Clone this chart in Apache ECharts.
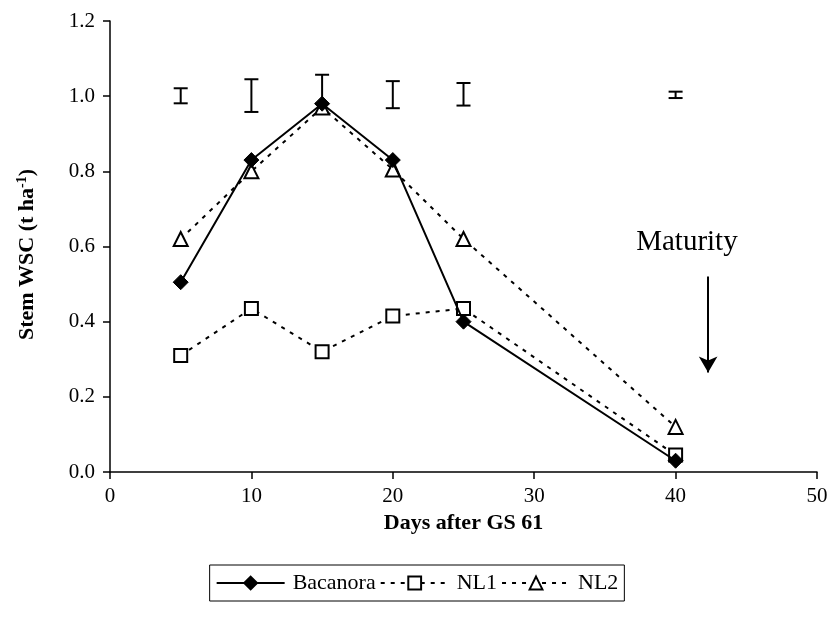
<!DOCTYPE html>
<html>
<head>
<meta charset="utf-8">
<script src="https://cdn.jsdelivr.net/npm/echarts@6/dist/echarts.min.js"></script>
<style>
html,body{margin:0;padding:0;background:#fff;}
#c{width:834px;height:626px;}
</style>
</head>
<body>
<div id="c"></div>
<script>
// Data
const days = [5, 10, 15, 20, 25, 40];
const bacanora = [0.505, 0.83, 0.98, 0.83, 0.40, 0.03];
const nl1 = [0.31, 0.435, 0.32, 0.415, 0.435, 0.045];
const nl2 = [0.62, 0.80, 0.97, 0.805, 0.62, 0.12];
const errLow = [0.981, 0.958, 0.98, 0.968, 0.975, 0.995];
const errHigh = [1.021, 1.045, 1.057, 1.04, 1.035, 1.012];
const xTicks = [0, 10, 20, 30, 40, 50];
const yTicks = [0.0, 0.2, 0.4, 0.6, 0.8, 1.0, 1.2];
const maturityX = 42.3;
const maturityArrow = [0.52, 0.265];
const maturityLabel = [40.8, 0.61];

const serif = '"Liberation Serif", "Times New Roman", serif';
const pairs = (ys) => days.map((d, i) => [d, ys[i]]);

const chart = echarts.init(document.getElementById('c'));
chart.setOption({
  animation: false,
  backgroundColor: '#fff',
  grid: { left: 110, right: 17, top: 21, bottom: 154, containLabel: false },
  xAxis: {
    type: 'value', min: xTicks[0], max: xTicks[xTicks.length - 1], interval: 10,
    name: 'Days after GS 61', nameLocation: 'middle', nameGap: 40,
    nameTextStyle: { fontFamily: serif, fontWeight: 'bold', fontSize: 22, color: '#000' },
    axisLine: { lineStyle: { color: '#000', width: 1.5 } },
    axisTick: { show: true, length: 7, lineStyle: { color: '#000', width: 1.5 } },
    axisLabel: { fontFamily: serif, fontSize: 21, color: '#000', margin: 14 },
    splitLine: { show: false }
  },
  yAxis: {
    type: 'value', min: yTicks[0], max: yTicks[yTicks.length - 1], interval: 0.2,
    name: 'Stem WSC (t ha{sup|-1})', nameLocation: 'middle', nameGap: 71,
    nameTextStyle: { fontFamily: serif, fontWeight: 'bold', fontSize: 22, color: '#000',
      padding: [0, 16, 0, 0],
      rich: { sup: { fontFamily: serif, fontWeight: 'bold', fontSize: 14, color: '#000', verticalAlign: 'top', padding: [0, 0, 10, 0] } } },
    axisLine: { show: true, lineStyle: { color: '#000', width: 1.5 } },
    axisTick: { show: true, length: 7, lineStyle: { color: '#000', width: 1.5 } },
    axisLabel: { fontFamily: serif, fontSize: 21, color: '#000', margin: 15, formatter: v => v.toFixed(1) },
    splitLine: { show: false }
  },
  legend: {
    bottom: 25, left: 'center',
    data: ['Bacanora', 'NL1', 'NL2'],
    itemWidth: 68, itemHeight: 16, itemGap: 4,
    borderColor: '#000', borderWidth: 1, borderRadius: 0,
    padding: [7, 6, 7, 6],
    textStyle: { fontFamily: serif, fontSize: 22, color: '#000', padding: [0, 0, 0, 3] }
  },
  series: [
    {
      name: 'NL1', type: 'line', data: pairs(nl1), z: 3,
      symbol: 'rect', symbolSize: 13,
      lineStyle: { color: '#000', width: 2, type: [4, 6] },
      itemStyle: { color: '#fff', borderColor: '#000', borderWidth: 2 }
    },
    {
      name: 'NL2', type: 'line', data: pairs(nl2), z: 4,
      symbol: 'triangle', symbolSize: 14,
      lineStyle: { color: '#000', width: 2, type: [4, 6] },
      itemStyle: { color: '#fff', borderColor: '#000', borderWidth: 2 }
    },
    {
      name: 'Bacanora', type: 'line', data: pairs(bacanora), z: 5,
      symbol: 'diamond', symbolSize: 15,
      lineStyle: { color: '#000', width: 2 },
      itemStyle: { color: '#000', borderColor: '#000', borderWidth: 1 },
      markLine: {
        silent: true, symbol: ['none', 'arrow'], symbolSize: [14, 16],
        lineStyle: { color: '#000', width: 2, type: 'solid' },
        label: { show: false },
        data: [[{ coord: [maturityX, maturityArrow[0]] }, { coord: [maturityX, maturityArrow[1]] }]]
      },
      markPoint: {
        silent: true, symbol: 'circle', symbolSize: 0,
        label: { show: true, formatter: 'Maturity', fontFamily: serif, fontSize: 29, color: '#000', position: 'inside' },
        data: [{ coord: maturityLabel }]
      }
    },
    {
      name: 'LSD', type: 'custom', z: 6,
      data: days.map((d, i) => [d, errLow[i], errHigh[i]]),
      renderItem: function (params, api) {
        const lo = api.coord([api.value(0), api.value(1)]);
        const hi = api.coord([api.value(0), api.value(2)]);
        const w = 7;
        const st = { stroke: '#000', lineWidth: 2 };
        return {
          type: 'group',
          children: [
            { type: 'line', shape: { x1: lo[0], y1: lo[1], x2: hi[0], y2: hi[1] }, style: st },
            { type: 'line', shape: { x1: lo[0] - w, y1: lo[1], x2: lo[0] + w, y2: lo[1] }, style: st },
            { type: 'line', shape: { x1: hi[0] - w, y1: hi[1], x2: hi[0] + w, y2: hi[1] }, style: st }
          ]
        };
      }
    }
  ]
});
</script>
</body>
</html>
